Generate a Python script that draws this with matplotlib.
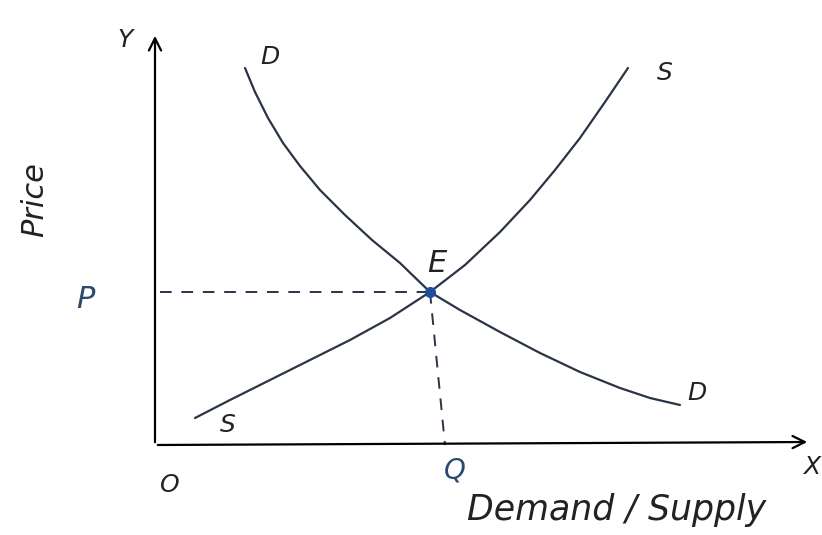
import numpy as np
import matplotlib.pyplot as plt

# curve points (origin at O, units ~ pixels)
demand_x = [90, 100, 113, 128, 145, 165, 190, 217, 245, 275, 305, 345,
            385, 425, 465, 495, 525]
demand_y = [377, 353, 327, 302, 279, 255, 230, 205, 182, 153, 135, 113,
            92, 73, 57, 47, 40]
supply_x = [40, 75, 115, 155, 195, 235, 275, 310, 345, 375, 400, 425,
            450, 473]
supply_y = [27, 45, 65, 85, 105, 127, 153, 180, 213, 245, 275, 307,
            343, 377]
eq_x, eq_y = 275, 153
q_x = 290

ink = "#2b3446"
blue = "#2a4a70"

fig = plt.figure(figsize=(8.22, 5.35), dpi=100)
ax = fig.add_axes([0, 0, 1, 1])
ax.set_xlim(-155, 667)
ax.set_ylim(-90, 445)
ax.axis("off")

# axes arrows
ax.annotate("", xy=(0, 412), xytext=(0, 0),
            arrowprops=dict(arrowstyle="->", color="black", lw=1.6,
                            mutation_scale=22))
ax.annotate("", xy=(655, 3), xytext=(0, 0),
            arrowprops=dict(arrowstyle="->", color="black", lw=1.6,
                            mutation_scale=22))

# curves
ax.plot(demand_x, demand_y, color=ink, lw=1.6, solid_capstyle="round",
        solid_joinstyle="round")
ax.plot(supply_x, supply_y, color=ink, lw=1.6, solid_capstyle="round",
        solid_joinstyle="round")

# dashed guides
ax.plot([5, eq_x], [eq_y, eq_y], color=ink, lw=1.4, ls=(0, (6, 5)))
ax.plot([eq_x, q_x], [eq_y, 0], color=ink, lw=1.4, ls=(0, (6, 5)))
ax.plot(eq_x, eq_y, "o", color="#1f4f9a", ms=7)

fs = dict(style="italic", color="#222222")
ax.text(-30, 405, "Y", fontsize=18, ha="center", va="center", **fs)
ax.text(115, 388, "D", fontsize=18, ha="center", va="center", **fs)
ax.text(510, 372, "S", fontsize=18, ha="center", va="center", **fs)
ax.text(282, 182, "E", fontsize=22, ha="center", va="center", **fs)
ax.text(-120, 245, "Price", fontsize=22, rotation=90, ha="center",
        va="center", **fs)
ax.text(-70, 145, "P", fontsize=22, ha="center", va="center",
        style="italic", color=blue)
ax.text(73, 20, "S", fontsize=18, ha="center", va="center", **fs)
ax.text(542, 52, "D", fontsize=18, ha="center", va="center", **fs)
ax.text(300, -25, "Q", fontsize=20, ha="center", va="center",
        style="italic", color=blue)
ax.text(15, -40, "O", fontsize=18, ha="center", va="center", **fs)
ax.text(657, -22, "X", fontsize=18, ha="center", va="center", **fs)
ax.text(462, -65, "Demand / Supply", fontsize=25, ha="center",
        va="center", **fs)

fig.savefig("out.png", dpi=100)
